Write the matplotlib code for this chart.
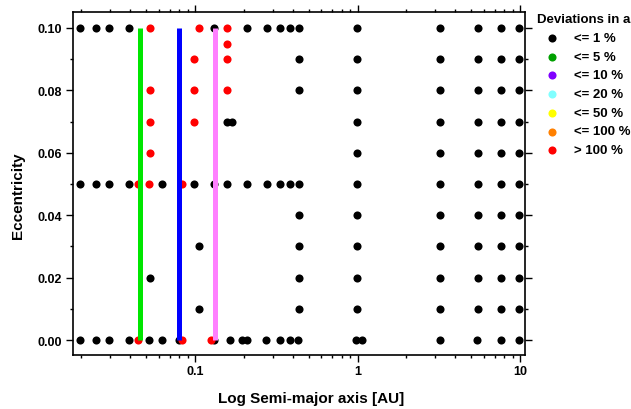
import matplotlib
matplotlib.use("Agg")
import matplotlib.pyplot as plt
import numpy as np

plt.rcParams['font.family'] = ['Liberation Sans', 'DejaVu Sans']
plt.rcParams['font.weight'] = 'bold'

# ---------------- data (semi-major axis [AU], eccentricity) ----------------
black_a = [
    # e = 0.10
    0.0196, 0.0245, 0.0294, 0.0393, 0.1316, 0.210, 0.276, 0.333, 0.384, 0.436, 0.99, 3.23, 5.50, 7.67, 9.9,
    # e = 0.09
    0.436, 0.99, 3.23, 5.50, 7.67, 9.9,
    # e = 0.08
    0.436, 0.99, 3.23, 5.50, 7.67, 9.9,
    # e = 0.07
    0.157, 0.168, 0.99, 3.23, 5.50, 7.67, 9.9,
    # e = 0.06
    0.99, 3.23, 5.50, 7.67, 9.9,
    # e = 0.05
    0.0196, 0.0245, 0.0294, 0.0393, 0.063, 0.098, 0.1316, 0.158, 0.210, 0.276, 0.333, 0.384, 0.436,
    0.99, 3.23, 5.50, 7.67, 9.9,
    # e = 0.04
    0.436, 0.99, 3.23, 5.50, 7.67, 9.9,
    # e = 0.03
    0.106, 0.436, 0.99, 3.23, 5.50, 7.67, 9.9,
    # e = 0.02
    0.0528, 0.436, 0.99, 3.23, 5.50, 7.67, 9.9,
    # e = 0.01
    0.106, 0.436, 0.99, 3.23, 5.50, 7.67, 9.9,
    # e = 0.00
    0.0196, 0.0245, 0.0294, 0.0393, 0.0524, 0.0628, 0.0794, 0.131, 0.164, 0.195, 0.209, 0.273, 0.333,
    0.385, 0.433, 0.976, 1.063, 3.23, 5.41, 7.62, 9.9,
]
black_e = (
    [0.10] * 15 + [0.09] * 6 + [0.08] * 6 + [0.07] * 7 + [0.06] * 5 + [0.05] * 18
    + [0.04] * 6 + [0.03] * 7 + [0.02] * 7 + [0.01] * 7 + [0.00] * 21
)

red_a = [0.0528, 0.106, 0.158,   # e = 0.10
         0.158,                  # e = 0.095
         0.098, 0.158,           # e = 0.09
         0.0528, 0.098, 0.158,   # e = 0.08
         0.0528, 0.098,          # e = 0.07
         0.0528,                 # e = 0.06
         0.0446, 0.0524, 0.0828, # e = 0.05
         0.0446, 0.0826, 0.126]  # e = 0.00
red_e = [0.10, 0.10, 0.10, 0.095, 0.09, 0.09, 0.08, 0.08, 0.08, 0.07, 0.07, 0.06,
         0.05, 0.05, 0.05, 0.0, 0.0, 0.0]

line_a = [0.046, 0.080, 0.132]
line_e_min = 0.0
line_e_max = 0.10
line_colors = ['#00E600', '#0000FF', '#FF80FF']

legend_title = 'Deviations in a'
legend_labels = ['<= 1 %', '<= 5 %', '<= 10 %', '<= 20 %', '<= 50 %', '<= 100 %', '> 100 %']
legend_colors = ['#000000', '#00A000', '#8000FF', '#80FFFF', '#FFFF00', '#FF8000', '#FF0000']

y_ticks = [0.00, 0.02, 0.04, 0.06, 0.08, 0.10]
x_ticks = [0.1, 1, 10]
x_ticklabels = ['0.1', '1', '10']

# ---------------- figure ----------------
fig = plt.figure(figsize=(6.31, 4.10), dpi=100)
ax = fig.add_axes([73 / 631, 1 - 356 / 410, (525 - 73) / 631, (356 - 13) / 410])

ms = 34
ax.scatter(black_a, black_e, s=ms, c='black', linewidths=0, zorder=3)
ax.scatter(red_a, red_e, s=ms, c='#FF0000', linewidths=0, zorder=3)
for a, c in zip(line_a, line_colors):
    ax.plot([a, a], [line_e_min, line_e_max], color=c, lw=3.6, solid_capstyle='butt', zorder=4)

ax.set_xscale('log')
ax.set_xlim(0.01775, 10.73)
ax.set_ylim(-0.0048, 0.1051)

ax.set_xticks(x_ticks)
ax.set_xticklabels(x_ticklabels)
ax.set_yticks(y_ticks)
ax.set_yticklabels([f'{v:.2f}' for v in y_ticks])
ax.yaxis.set_minor_locator(matplotlib.ticker.MultipleLocator(0.01))
ax.xaxis.set_minor_locator(matplotlib.ticker.LogLocator(base=10, subs=np.arange(2, 10)))
ax.xaxis.set_minor_formatter(matplotlib.ticker.NullFormatter())

ax.tick_params(which='both', direction='out', top=True, right=True, width=1.0, color='black',
               labelsize=9)
ax.tick_params(which='major', length=5)
ax.tick_params(which='minor', length=2.5)
ax.tick_params(axis='x', which='major', pad=2.5)
ax.tick_params(axis='y', which='major', pad=3)
for lab in ax.get_xticklabels() + ax.get_yticklabels():
    lab.set_fontweight('bold')
for sp in ax.spines.values():
    sp.set_linewidth(1.2)

ax.set_xlabel('Log Semi-major axis [AU]', fontsize=11, fontweight='bold')
ax.set_ylabel('Eccentricity', fontsize=11, fontweight='bold')
ax.xaxis.set_label_coords((311 - 73) / (525 - 73), 1 - (399 - 13) / (356 - 13))
ax.yaxis.set_label_coords((18 - 73) / (525 - 73), 1 - (196 - 13) / (356 - 13))
ax.xaxis.label.set_va('center')
ax.yaxis.label.set_va('center')

# ---------------- legend (manual) ----------------
fig.text(537 / 631, 1 - 20 / 410, legend_title, fontsize=9.5, fontweight='bold', va='center', ha='left')
lax = fig.add_axes([0, 0, 1, 1], facecolor='none')
lax.set_xlim(0, 631)
lax.set_ylim(410, 0)
lax.axis('off')
for i, (lab, col) in enumerate(zip(legend_labels, legend_colors)):
    y = 39 + i * 18.7
    lax.scatter([552], [y], s=ms, c=col, linewidths=0)
    lax.text(574, y, lab, fontsize=9.5, fontweight='bold', va='center', ha='left')

fig.savefig('out.png', dpi=100)
